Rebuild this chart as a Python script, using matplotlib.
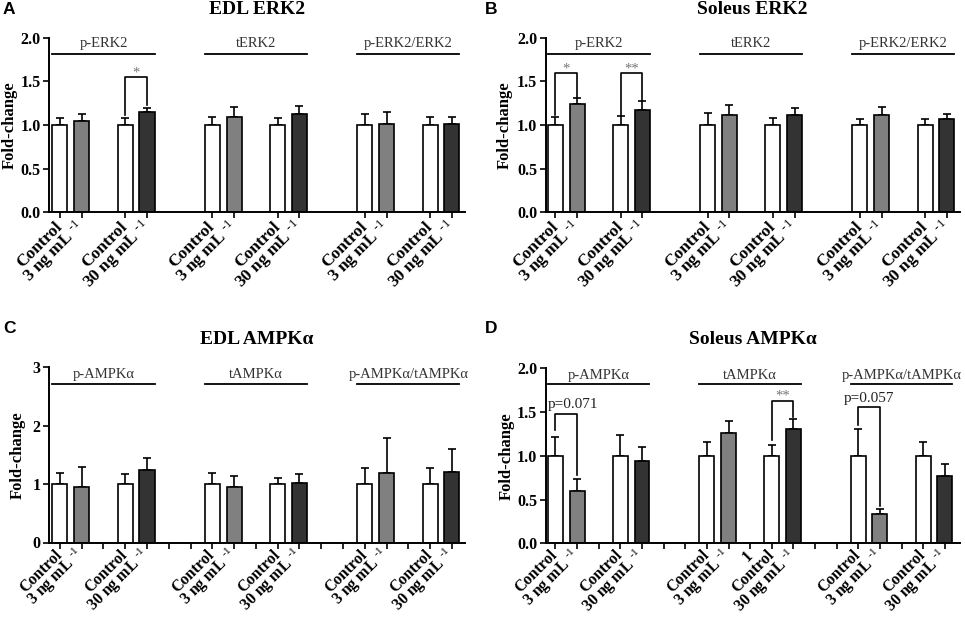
import matplotlib
matplotlib.use("Agg")
import matplotlib.pyplot as plt

plt.rcParams['font.family'] = ['Liberation Serif', 'DejaVu Serif']
plt.rcParams['mathtext.fontset'] = 'custom'
plt.rcParams['mathtext.rm'] = 'Liberation Serif'
plt.rcParams['mathtext.it'] = 'Liberation Serif:italic'
plt.rcParams['mathtext.bf'] = 'Liberation Serif:bold'

# ---------------- data ----------------
slots = [0, 1, 3, 4, 7, 8, 10, 11, 14, 15, 17, 18]
bar_colors = ['white', '#808080', 'white', '#333333'] * 3
tick_names = ['Control', '3 ng mL $^{\u2010 1}$', 'Control', '30 ng mL $^{\u2010 1}$'] * 3

erk_groups = ['p-ERK2', 'tERK2', 'p-ERK2/ERK2']
ampk_groups = ['p-AMPKα', 'tAMPKα', 'p-AMPKα/tAMPKα']

A_means = [1.0, 1.05, 1.0, 1.145, 1.0, 1.088, 1.0, 1.13, 1.0, 1.008, 1.0, 1.015]
A_err = [0.075, 0.075, 0.075, 0.055, 0.095, 0.12, 0.075, 0.09, 0.125, 0.14, 0.09, 0.077]
B_means = [1.0, 1.24, 1.0, 1.172, 1.0, 1.11, 1.0, 1.11, 1.0, 1.114, 1.0, 1.065]
B_err = [0.095, 0.07, 0.10, 0.105, 0.14, 0.12, 0.075, 0.09, 0.07, 0.09, 0.065, 0.06]
C_means = [1.0, 0.944, 1.0, 1.234, 1.0, 0.943, 1.0, 1.023, 1.0, 1.18, 1.0, 1.21]
C_err = [0.18, 0.35, 0.166, 0.205, 0.18, 0.19, 0.10, 0.15, 0.27, 0.6, 0.27, 0.39]
D_means = [1.0, 0.598, 1.0, 0.945, 1.0, 1.265, 1.0, 1.307, 1.0, 0.331, 1.0, 0.77]
D_err = [0.22, 0.137, 0.234, 0.15, 0.155, 0.133, 0.128, 0.11, 0.31, 0.06, 0.158, 0.137]

# brackets: (left bar idx, right bar idx, y left, y top, y right, text, text y, text x, colour)
A_brackets = [(2, 3, 1.11, 1.55, 1.23, '*', 1.60, 3.5, '#777777')]
B_brackets = [(0, 1, 1.11, 1.59, 1.32, '*', 1.64, 0.5, '#777777'),
              (2, 3, 1.11, 1.59, 1.29, '**', 1.64, 3.5, '#777777')]
C_brackets = []
D_brackets = [(0, 1, 1.295, 1.478, 0.78, 'p=0.071', 1.59, 0.8, '#222222'),
              (6, 7, 1.18, 1.63, 1.448, '**', 1.68, 10.5, '#777777'),
              (8, 9, 1.352, 1.562, 0.43, 'p=0.057', 1.657, 14.5, '#222222')]

BW = 0.69

def panel(ax, means, errs, ylim, yticks, yticklabels, groups, gline_y, gtext_y,
          brackets, all_ticks, xfs, xpad, extra_ticks=None):
    ax.bar(slots, means, width=BW, color=bar_colors, edgecolor='black',
           linewidth=1.2, zorder=2)
    ax.errorbar(slots, means, yerr=[[0] * len(errs), errs], fmt='none',
                ecolor='black', elinewidth=1.2, capsize=2.8, capthick=1.2, zorder=1)
    ax.set_xlim(-0.5, 18.6)
    ax.set_ylim(*ylim)
    ax.set_yticks(yticks)
    ax.set_yticklabels(yticklabels, fontweight='bold', fontsize=11.5)
    if all_ticks:
        pos = list(range(0, 19))
        labs = []
        for p in pos:
            if p in slots:
                labs.append(tick_names[slots.index(p)])
            elif extra_ticks and p in extra_ticks:
                labs.append(extra_ticks[p])
            else:
                labs.append('')
    else:
        pos = slots
        labs = tick_names
    ax.set_xticks(pos)
    ax.set_xticklabels(labs, rotation=45, ha='right', va='center',
                       rotation_mode='anchor', fontweight='bold', fontsize=xfs)
    ax.tick_params(axis='x', length=4, width=1.2, pad=xpad)
    ax.tick_params(axis='y', length=4, width=1.2, pad=2)
    for s in ['top', 'right']:
        ax.spines[s].set_visible(False)
    for s in ['left', 'bottom']:
        ax.spines[s].set_linewidth(1.4)
    for gi, g in enumerate(groups):
        x0 = slots[gi * 4] - BW / 2
        x1 = slots[gi * 4 + 3] + BW / 2
        ax.plot([x0, x1], [gline_y, gline_y], color='black', lw=1.3, clip_on=False)
        ax.text((x0 + x1) / 2, gtext_y, g, ha='center', va='center',
                fontsize=10.5, color='#333333', clip_on=False)
    for (i, j, yl, yt, yr, t, ty, tx, c) in brackets:
        xl, xr = slots[i], slots[j]
        ax.plot([xl, xl, xr, xr], [yl, yt, yt, yr], color='black', lw=1.2, zorder=3)
        ax.text(tx, ty, t, ha='center', va='center', fontsize=11 if t.startswith('p') else 10.5,
                color=c)

fig = plt.figure(figsize=(9.65, 6.18), dpi=100)
axA = fig.add_axes([49 / 965, 405.7 / 618, 416 / 965, 174.6 / 618])
axB = fig.add_axes([545.7 / 965, 405.7 / 618, 414.3 / 965, 174.6 / 618])
axC = fig.add_axes([49 / 965, 75.5 / 618, 416 / 965, 175.5 / 618])
axD = fig.add_axes([545.7 / 965, 74.7 / 618, 414.3 / 965, 175 / 618])

erk_ticks = [0, 0.5, 1.0, 1.5, 2.0]
erk_labels = ['0.0', '0.5', '1.0', '1.5', '2.0']
panel(axA, A_means, A_err, (0, 2.0), erk_ticks, erk_labels, erk_groups, 1.81, 1.93,
      A_brackets, False, 12.5, 4.5)
panel(axB, B_means, B_err, (0, 2.0), erk_ticks, erk_labels, erk_groups, 1.81, 1.93,
      B_brackets, False, 12.5, 4.5)
axB.set_xlim(-0.45, 18.6)
panel(axC, C_means, C_err, (0, 3.0), [0, 1, 2, 3], ['0', '1', '2', '3'], ampk_groups,
      2.715, 2.87, C_brackets, True, 11.5, 3)
panel(axD, D_means, D_err, (0, 2.0), erk_ticks, erk_labels, ampk_groups, 1.82, 1.92,
      D_brackets, True, 11.5, 3, extra_ticks={9: '1'})
axD.set_xlim(-0.45, 18.7)

# titles
def ft(xpx, ypx, s, **kw):
    fig.text(xpx / 965, 1 - ypx / 618, s, **kw)

ft(257, 10, 'EDL ERK2', ha='center', va='center', fontsize=14, fontweight='bold')
ft(752, 10, 'Soleus ERK2', ha='center', va='center', fontsize=14, fontweight='bold')
ft(257, 340, 'EDL AMPKα', ha='center', va='center', fontsize=14, fontweight='bold')
ft(753, 339, 'Soleus AMPKα', ha='center', va='center', fontsize=14, fontweight='bold')

for (x, y, s) in [(3, 10, 'A'), (485, 10, 'B'), (3, 329, 'C'), (485, 329, 'D')]:
    ft(x, y, s, ha='left', va='center', fontsize=12.5, fontweight='bold',
       family=['Liberation Sans', 'DejaVu Sans'])

for (x, y) in [(10, 125), (505, 125), (18, 455), (507, 456)]:
    ft(x, y, 'Fold-change', ha='center', va='center', rotation=90, fontsize=12,
       fontweight='bold')

fig.savefig('out.png', dpi=100)
